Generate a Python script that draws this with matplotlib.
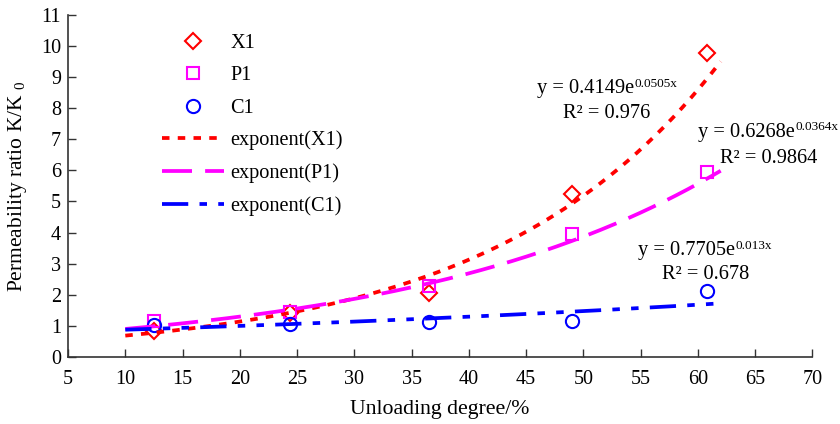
import numpy as np
import matplotlib
matplotlib.use("Agg")
import matplotlib.pyplot as plt

plt.rcParams['font.family'] = ['Liberation Serif', 'DejaVu Serif']
plt.rcParams['mathtext.fontset'] = 'custom'
plt.rcParams['mathtext.rm'] = 'Liberation Serif'
plt.rcParams['mathtext.it'] = 'Liberation Serif:italic'

# data
unloading = [12.5, 24.4, 36.5, 49.0, 60.8]
x1_vals = [0.85, 1.40, 2.05, 5.25, 9.77]
p1_vals = [1.15, 1.45, 2.28, 3.95, 5.95]
c1_vals = [1.02, 1.07, 1.12, 1.17, 2.12]

# fitted exponential trends (from the chart's equations)
fit_x1 = (0.4149, 0.0505)
fit_p1 = (0.6268, 0.0364)
fit_c1 = (0.7705, 0.013)
fit_range = (10.0, 62.0)

xticks = list(range(5, 71, 5))
yticks = list(range(0, 12))

fig = plt.figure(figsize=(8.4, 4.24), dpi=100)
ax = fig.add_axes([0.081, 0.158, 0.886, 0.807])

xf = np.linspace(fit_range[0], fit_range[1], 200)
lw = 2.7
lx1, = ax.plot(xf, fit_x1[0] * np.exp(fit_x1[1] * xf), color='#ff0000', lw=lw,
               dashes=(2, 2.2), zorder=3)
lp1, = ax.plot(xf, fit_p1[0] * np.exp(fit_p1[1] * xf), color='#ff00ff', lw=lw,
               dashes=(8, 3.5), zorder=3)
lc1, = ax.plot(xf, fit_c1[0] * np.exp(fit_c1[1] * xf), color='#0000ff', lw=lw,
               dashes=(7, 3, 2, 3, 2, 3), zorder=3)

mx1, = ax.plot(unloading, x1_vals, linestyle='none', marker='D', ms=8.5,
               mfc='none', mec='#ff0000', mew=1.5, zorder=2)
mp1, = ax.plot(unloading, p1_vals, linestyle='none', marker='s', ms=9,
               mfc='none', mec='#ff00ff', mew=1.5, zorder=2)
mc1, = ax.plot(unloading, c1_vals, linestyle='none', marker='o', ms=9.5,
               mfc='none', mec='#0000ff', mew=1.5, zorder=2)

ax.set_xlim(5, 70)
ax.set_ylim(0, 11)
ax.set_xticks(xticks)
ax.set_yticks(yticks)
ax.tick_params(direction='in', length=6, width=1, labelsize=14.5, color='#333333')
ax.tick_params(axis='x', pad=9.5)
ax.tick_params(axis='y', pad=5)
for s in ['top', 'right']:
    ax.spines[s].set_visible(False)
for s in ['left', 'bottom']:
    ax.spines[s].set_linewidth(1.2)
    ax.spines[s].set_color('#333333')

ax.set_xlabel('Unloading degree/%', fontsize=15.7, labelpad=8)
ax.set_ylabel('Permeability ratio K/K $_{\\mathrm{0}}$', fontsize=15.5, labelpad=8.5)

leg = ax.legend([mx1, mp1, mc1, lx1, lp1, lc1],
                ['X1', 'P1', 'C1', 'exponent(X1)', 'exponent(P1)', 'exponent(C1)'],
                loc='upper left', bbox_to_anchor=(0.115, 0.968), frameon=False,
                fontsize=14.6, handlelength=3.05, handletextpad=0.34,
                labelspacing=0.645, borderaxespad=0)

fs = 14.7
sfs = 9.5


def equation(x, y, base, sup):
    t = ax.text(x, y, base, fontsize=fs, ha='left', va='baseline')
    ax.annotate(sup, xy=(1, 0), xycoords=t, xytext=(0.5, 8.2),
                textcoords='offset points', fontsize=sfs, ha='left', va='baseline')


equation(45.97, 8.49, 'y = 0.4149e', '0.0505x')
ax.text(48.25, 7.69, 'R² = 0.976', fontsize=fs, ha='left', va='baseline')
equation(60.04, 7.08, 'y = 0.6268e', '0.0364x')
ax.text(61.97, 6.24, 'R² = 0.9864', fontsize=fs, ha='left', va='baseline')
equation(54.8, 3.28, 'y = 0.7705e', '0.013x')
ax.text(56.9, 2.51, 'R² = 0.678', fontsize=fs, ha='left', va='baseline')

fig.savefig('out.png', dpi=100)
